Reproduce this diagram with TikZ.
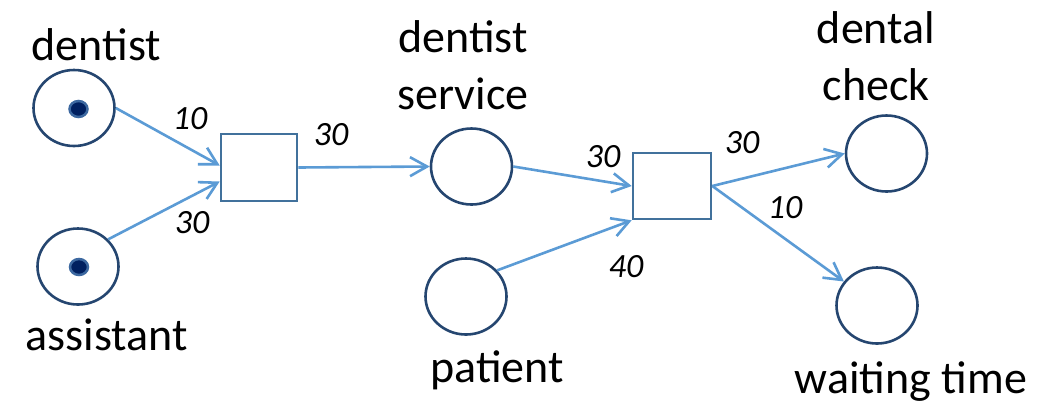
\documentclass[tikz,border=0pt]{standalone}
\usepackage{fontspec}
\setmainfont{Carlito}
\usetikzlibrary{arrows.meta,shapes.geometric}

\definecolor{placeline}{RGB}{37,70,112}
\definecolor{transline}{RGB}{65,113,156}
\definecolor{arcline}{RGB}{91,155,213}
\definecolor{tokenfill}{RGB}{0,32,96}
\definecolor{tokenline}{RGB}{60,104,160}

\tikzset{
  place/.style={ellipse, draw=placeline, line width=2.6pt, minimum width=81pt, minimum height=76pt, inner sep=0pt},
  trans/.style={rectangle, draw=transline, line width=2.6pt, inner sep=0pt},
  token/.style={ellipse, fill=tokenfill, draw=tokenline, line width=2.5pt, minimum width=18pt, minimum height=16pt, inner sep=0pt},
  arc/.style={draw=arcline, line width=2.6pt, -{Straight Barb[length=17pt, width=19pt, line width=2.6pt]}},
  lbl/.style={font=\fontsize{46}{57}\selectfont, inner sep=0pt, anchor=base, align=center},
  weight/.style={font=\fontsize{34}{40}\selectfont\itshape, inner sep=0pt}
}

\begin{document}
\begin{tikzpicture}[x=1pt, y=-1pt]
  \useasboundingbox (0,0) rectangle (1048,400);

  % places
  \node[place] (p1) at (74,108)   {};
  \node[place] (p2) at (78,266.5) {};
  \node[place] (p3) at (471.5,166.5) {};
  \node[place] (p4) at (466,296.5) {};
  \node[place] (p5) at (886.5,153.5) {};
  \node[place] (p6) at (877,305.5) {};

  % tokens
  \node[token] (k1) at (78.5,109) {};
  \node[token] (k2) at (79,267) {};

  % transitions
  \node[trans, minimum width=76pt, minimum height=67pt] (t1) at (259,167.5) {};
  \node[trans, minimum width=78pt, minimum height=66pt] (t2) at (672,186) {};

  % arcs
  \draw[arc] (p1.east) -- ([yshift=2pt]t1.west);
  \draw[arc] (p2.42) -- ([yshift=-14pt]t1.west);
  \draw[arc] (t1.east) -- (p3.west);
  \draw[arc] (p3.east) -- (t2.west);
  \draw[arc] (p4.40) -- (t2.south west);
  \draw[arc] (t2.east) -- (p5.west);
  \draw[arc] (t2.east) -- (p6);

  % place names
  \node[lbl] (n1) at (96.5,60)  {dentist};
  \node[lbl] (n2) at (106.5,350) {assistant};
  \node[lbl] (n3) at (463,52)   {dentist};
  \node[lbl] (n3b) at (463,109) {service};
  \node[lbl] (n4) at (497,382)  {patient};
  \node[lbl] (n5) at (876,43)   {dental};
  \node[lbl] (n5b) at (876,100) {check};
  \node[lbl] (n6) at (911,393)  {waiting time};

  % arc weights
  \node[weight] (w1) at (190,119) {10};
  \node[weight] (w2) at (192,223) {30};
  \node[weight] (w3) at (331,135) {30};
  \node[weight] (w4) at (603,157) {30};
  \node[weight] (w5) at (626,267) {40};
  \node[weight] (w6) at (742,143) {30};
  \node[weight] (w7) at (785,208) {10};
\end{tikzpicture}
\end{document}
